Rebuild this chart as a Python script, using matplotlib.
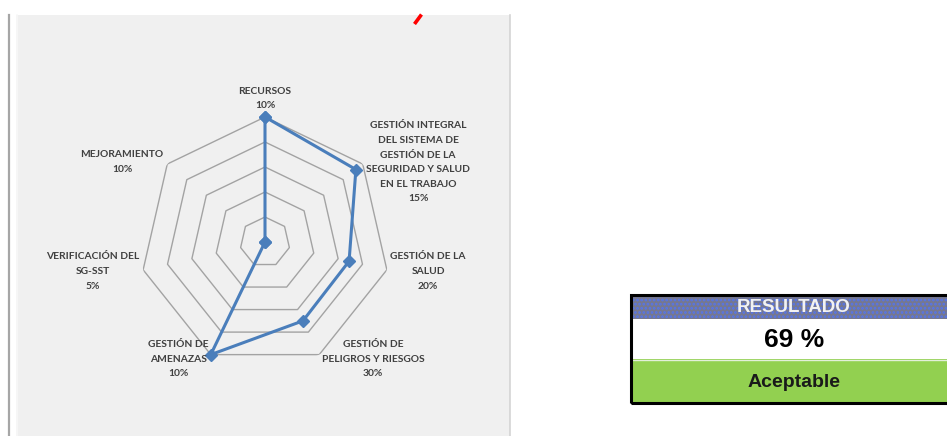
import numpy as np
import matplotlib
matplotlib.use("Agg")
import matplotlib.pyplot as plt
from matplotlib.patches import Rectangle
from matplotlib.lines import Line2D

# ---------------- data ----------------
categories = [
    "RECURSOS",
    "GESTIÓN INTEGRAL\nDEL SISTEMA DE\nGESTIÓN DE LA\nSEGURIDAD Y SALUD\nEN EL TRABAJO",
    "GESTIÓN DE LA\nSALUD",
    "GESTIÓN DE\nPELIGROS Y RIESGOS",
    "GESTIÓN DE\nAMENAZAS",
    "VERIFICACIÓN DEL\nSG-SST",
    "MEJORAMIENTO",
]
weights = ["10%", "15%", "20%", "30%", "10%", "5%", "10%"]
scores = [1.0, 0.93, 0.69, 0.70, 1.0, 0.0, 0.0]   # fraction of each weight achieved
ring_levels = [0.2, 0.4, 0.6, 0.8, 1.0]
result_title = "RESULTADO"
result_value = "69 %"
result_label = "Aceptable"

# ---------------- layout ----------------
W, H = 947, 436
DPI = 100
plt.rcParams["hatch.linewidth"] = 1.3
fig = plt.figure(figsize=(W / DPI, H / DPI), dpi=DPI)
fig.patch.set_facecolor("white")


def fx(x):
    return x / W


def fy(y):
    return 1 - y / H


# chart panel background
fig.patches.append(Rectangle((fx(16), fy(436)), fx(494), 421 / H, transform=fig.transFigure,
                             facecolor="#f0f0f0", edgecolor="none", zorder=-2))
fig.add_artist(Line2D([fx(17), fx(17)], [fy(15), fy(436)], transform=fig.transFigure,
                      color="#f8f8f8", lw=1.2, zorder=-1))
fig.add_artist(Line2D([fx(509.5), fx(509.5)], [fy(15), fy(436)], transform=fig.transFigure,
                      color="#d4d4d4", lw=1.2, zorder=-1))
fig.add_artist(Line2D([fx(8.5), fx(8.5)], [fy(15), fy(436)], transform=fig.transFigure,
                      color="#a6a6a6", lw=1.6, zorder=-1))
# red fragment of a clipped title
fig.add_artist(Line2D([fx(414.5), fx(421.5)], [fy(24), fy(14.5)], transform=fig.transFigure,
                      color="#ff0000", lw=2.6, solid_capstyle="butt", zorder=2))

# radar axes
cx, cy, R = 265, 242, 125
ax = fig.add_axes([fx(cx - R), fy(cy + R), 2 * R / W, 2 * R / H], projection="polar")
ax.set_zorder(3)
ax.set_facecolor("none")
ax.set_theta_zero_location("N")
ax.set_theta_direction(-1)
ax.set_ylim(0, 1)
ax.grid(False)
ax.set_xticks([])
ax.set_yticks([])
ax.spines["polar"].set_visible(False)

n = len(categories)
theta = np.arange(n) * 2 * np.pi / n
theta_closed = np.append(theta, theta[0])
for lvl in ring_levels:
    ax.plot(theta_closed, [lvl] * (n + 1), color="#a3a3a3", lw=1.0, zorder=1)

vals = np.append(scores, scores[0])
ax.plot(theta_closed, vals, color="#4a7ebb", lw=2.2, marker="D", markersize=5.8,
        markerfacecolor="#4a7ebb", markeredgecolor="#4a7ebb", zorder=3, clip_on=False)

# category labels (pixel centres of each text block)
label_pos = [(265, 98.5), (418, 162.3), (428, 271.5), (373, 359), (178, 359), (93, 271.5), (122, 162)]
for cat, w, (px, py) in zip(categories, weights, label_pos):
    fig.text(fx(px), fy(py), cat + "\n" + w, ha="center", va="center", fontsize=7.4,
             fontweight="bold", family="Lato", color="#404040", linespacing=1.8, zorder=5)

# ---------------- result table ----------------
tx0, tx1 = 631, 960
y_top, y_h1, y_h2, y_bot = 294.5, 319, 359, 403
fig.patches.append(Rectangle((fx(tx0), fy(y_h1)), (tx1 - tx0) / W, (y_h1 - y_top) / H,
                             transform=fig.transFigure, facecolor="#767890", edgecolor="#5575ec",
                             hatch="....", lw=0, zorder=2))
fig.patches.append(Rectangle((fx(tx0), fy(y_h2)), (tx1 - tx0) / W, (y_h2 - y_h1) / H,
                             transform=fig.transFigure, facecolor="white", edgecolor="none", zorder=2))
fig.patches.append(Rectangle((fx(tx0), fy(y_bot)), (tx1 - tx0) / W, (y_bot - y_h2) / H,
                             transform=fig.transFigure, facecolor="#92d050", edgecolor="none", zorder=2))
fig.add_artist(Line2D([fx(tx0), fx(tx1)], [fy(y_h2 + 0.5), fy(y_h2 + 0.5)], transform=fig.transFigure,
                      color="#e2efd9", lw=1.0, zorder=3))
# border
fig.patches.append(Rectangle((fx(tx0), fy(y_bot)), (tx1 - tx0) / W, (y_bot - y_top) / H,
                             transform=fig.transFigure, facecolor="none", edgecolor="black", lw=2.2, zorder=4))

tcx = 794
fig.text(fx(tcx), fy((y_top + y_h1) / 2 + 0.5), result_title, ha="center", va="center", fontsize=13.5,
         fontweight="bold", family="Liberation Sans", color="#f2f2f2", zorder=5)
fig.text(fx(tcx), fy((y_h1 + y_h2) / 2 + 1), result_value, ha="center", va="center", fontsize=19,
         fontweight="bold", family="Liberation Sans", color="black", zorder=5)
fig.text(fx(tcx), fy((y_h2 + y_bot) / 2 + 1), result_label, ha="center", va="center", fontsize=14,
         fontweight="bold", family="Liberation Sans", color="#1a1a1a", zorder=5)

fig.savefig("out.png", dpi=DPI)
